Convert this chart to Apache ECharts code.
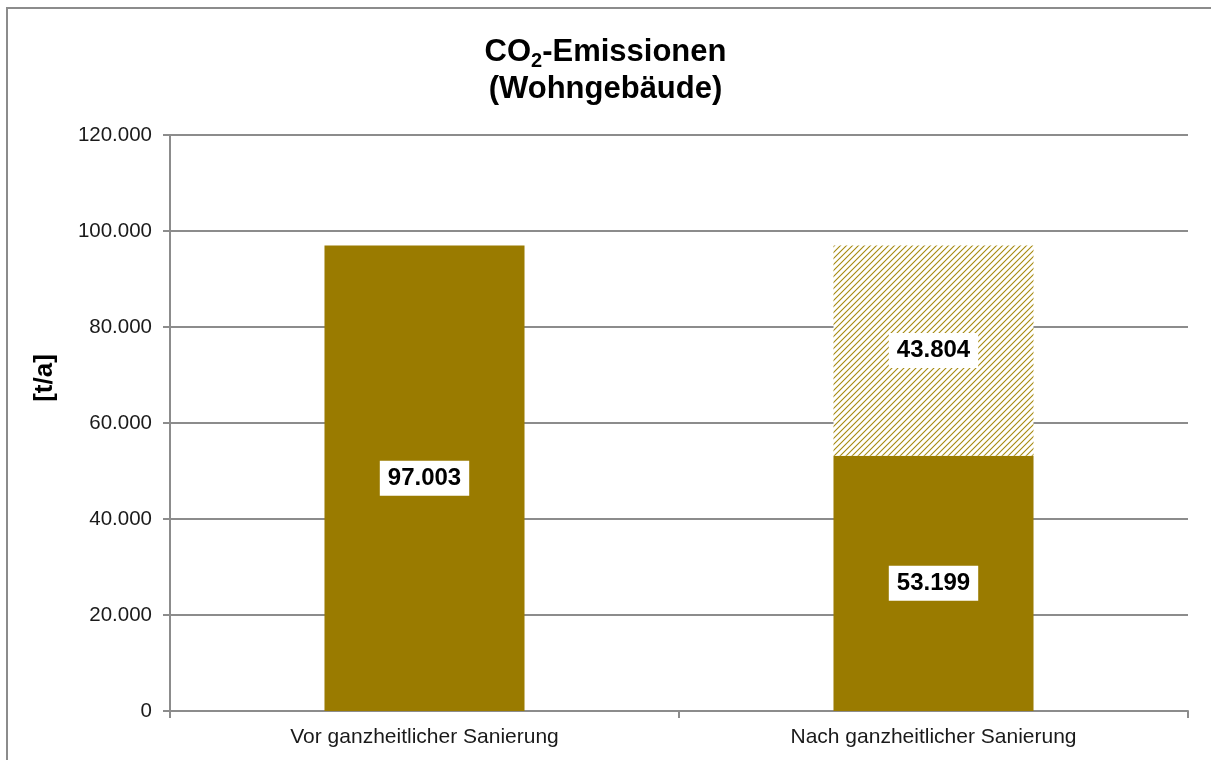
<!DOCTYPE html>
<html><head><meta charset="utf-8">
<script src="https://cdn.jsdelivr.net/npm/echarts@6/dist/echarts.min.js"></script>
<style>html,body{margin:0;padding:0;background:#fff}#c{width:1211px;height:760px}</style>
</head><body><div id="c"></div>
<script>
const categories = ['Vor ganzheitlicher Sanierung', 'Nach ganzheitlicher Sanierung'];
const baseValues = [97003, 53199];
const savedValues = [null, 43804];
const yTicks = [0, 20000, 40000, 60000, 80000, 100000, 120000];

const FONT = '"Liberation Sans", Arial, sans-serif';
const OLIVE = '#9a7b00';

function fmt(v) { return String(Math.round(v)).replace(/\B(?=(\d{3})+(?!\d))/g, '.'); }

// hatch pattern
const S = 6;
const pc = document.createElement('canvas');
pc.width = S; pc.height = S;
const g = pc.getContext('2d');
g.fillStyle = '#ffffff'; g.fillRect(0, 0, S, S);
g.strokeStyle = '#a68a10'; g.lineWidth = 1.1;
g.beginPath();
g.moveTo(-1, S + 1); g.lineTo(S + 1, -1);
g.moveTo(-1, 1); g.lineTo(1, -1);
g.moveTo(S - 1, S + 1); g.lineTo(S + 1, S - 1);
g.stroke();

const labelStyle = {
  show: true, position: 'inside', formatter: p => fmt(p.value),
  fontFamily: FONT, fontSize: 24, fontWeight: 'bold', color: '#000',
  backgroundColor: '#fff', padding: [6, 8, 5, 8]
};

const chart = echarts.init(document.getElementById('c'));
chart.setOption({
  animation: false,
  title: {
    text: '{a|CO}{s|2}{a|-Emissionen}\n{a|(Wohngebäude)}',
    left: 'center', top: 29,
    textStyle: {
      rich: {
        a: { fontFamily: FONT, fontSize: 31, fontWeight: 'bold', color: '#000', lineHeight: 37 },
        s: { fontFamily: FONT, fontSize: 20, fontWeight: 'bold', color: '#000', lineHeight: 31, verticalAlign: 'bottom' }
      }
    }
  },
  graphic: [{
    type: 'rect', shape: { x: 7, y: 8, width: 1230, height: 800 },
    style: { fill: 'none', stroke: '#8c8c8c', lineWidth: 2 }, silent: true, z: -1
  }, {
    type: 'text', x: 45, y: 378, rotation: Math.PI / 2,
    style: { text: '[t/a]', fontFamily: FONT, fontSize: 26, fontWeight: 'bold', fill: '#000',
      align: 'center', verticalAlign: 'middle' }
  }],
  grid: { left: 170, right: 23, top: 135, bottom: 49, containLabel: false },
  xAxis: {
    type: 'category', data: categories,
    axisLine: { lineStyle: { color: '#8c8c8c', width: 2 } },
    axisTick: { show: true, alignWithLabel: false, length: 7, lineStyle: { color: '#8c8c8c', width: 2 } },
    axisLabel: { fontFamily: FONT, fontSize: 21, color: '#1a1a1a', margin: 16 }
  },
  yAxis: {
    type: 'value', min: 0, max: 120000, interval: 20000,
    axisLine: { show: true, lineStyle: { color: '#8c8c8c', width: 2 } },
    axisTick: { show: true, length: 7, lineStyle: { color: '#8c8c8c', width: 2 } },
    splitLine: { lineStyle: { color: '#8c8c8c', width: 2 } },
    axisLabel: { fontFamily: FONT, fontSize: 20.5, color: '#1a1a1a', margin: 18,
      formatter: v => yTicks.includes(v) ? fmt(v) : '' }
  },
  series: [
    { type: 'bar', stack: 's', data: baseValues, barWidth: '39.3%',
      itemStyle: { color: OLIVE }, label: labelStyle },
    { type: 'bar', stack: 's', data: savedValues, barWidth: '39.3%',
      itemStyle: { color: { image: pc, repeat: 'repeat' } }, label: labelStyle }
  ]
});
</script></body></html>
